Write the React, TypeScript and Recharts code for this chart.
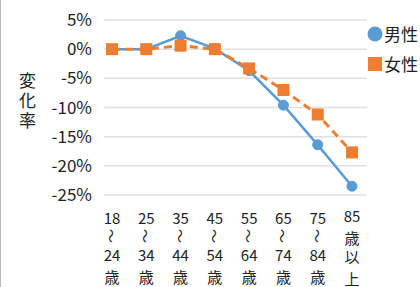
import React from "react";
import { LineChart, Line, XAxis, YAxis, CartesianGrid, Legend } from "recharts";

const categories = ["18~24歳", "25~34歳", "35~44歳", "45~54歳", "55~64歳", "65~74歳", "75~84歳", "85歳以上"];
const tickLines: string[][] = [
  ["18", "〜", "24", "歳"],
  ["25", "〜", "34", "歳"],
  ["35", "〜", "44", "歳"],
  ["45", "〜", "54", "歳"],
  ["55", "〜", "64", "歳"],
  ["65", "〜", "74", "歳"],
  ["75", "〜", "84", "歳"],
  ["85", "歳", "以", "上"],
];
const maleValues = [0, 0, 2.3, 0.1, -3.7, -9.6, -16.4, -23.5];
const femaleValues = [0, 0, 0.6, 0, -3.3, -7.0, -11.2, -17.7];
const yTicks = [5, 0, -5, -10, -15, -20, -25];

const data = categories.map((c, i) => ({
  name: c,
  male: maleValues[i],
  female: femaleValues[i],
}));

const FONT = "'Noto Sans CJK JP', 'Noto Sans', sans-serif";
const BLUE = "#5B9BD5";
const ORANGE = "#ED7D31";
const LINE_Y = [15, 33, 52, 74];
const LINE_Y_ALL_TEXT = [13, 35, 54.5, 76];

const XTick = (props: any) => {
  const { x, y, index } = props;
  const lines = tickLines[index] || [];
  const tilde = lines.findIndex((l) => l === "〜");
  const ys = tilde >= 0 ? LINE_Y : LINE_Y_ALL_TEXT;
  return (
    <g transform={`translate(${x},${y})`}>
      <text textAnchor="middle" fill="#222" fontSize={15} fontFamily={FONT}>
        {lines.map((l, i) =>
          l === "〜" ? null : (
            <tspan key={i} x={0} y={ys[i]} dy={5.5}>
              {l}
            </tspan>
          )
        )}
      </text>
      {tilde >= 0 && (
        <text
          x={0}
          y={0}
          transform={`translate(0,${ys[tilde]}) rotate(90)`}
          textAnchor="middle"
          dominantBaseline="central"
          fill="#222"
          fontSize={14}
          fontFamily={FONT}
        >
          〜
        </text>
      )}
    </g>
  );
};

const SquareDot = (props: any) => {
  const { cx, cy } = props;
  if (cx == null || cy == null) return null;
  return <rect x={cx - 6} y={cy - 6} width={12} height={12} fill={ORANGE} />;
};

const LegendContent = () => (
  <div style={{ fontFamily: FONT, fontSize: 17, color: "#222", lineHeight: "30px" }}>
    <div style={{ display: "flex", alignItems: "center" }}>
      <svg width={16} height={16} style={{ marginRight: 1 }}>
        <circle cx={8} cy={8} r={7.5} fill={BLUE} />
      </svg>
      <span>男性</span>
    </div>
    <div style={{ display: "flex", alignItems: "center" }}>
      <svg width={16} height={16} style={{ marginRight: 1 }}>
        <rect x={1} y={1} width={14} height={14} fill={ORANGE} />
      </svg>
      <span>女性</span>
    </div>
  </div>
);

export default function App() {
  return (
    <div style={{ position: "absolute", left: 0, top: 0, width: 420, height: 287, background: "#fff" }}>
      <div style={{ position: "absolute", left: 0, top: 0, width: 1, height: 287, background: "#bbb" }} />
      <div
        style={{
          position: "absolute",
          left: 15,
          top: 72,
          fontFamily: FONT,
          fontSize: 17,
          lineHeight: "24px",
          letterSpacing: "3px",
          writingMode: "vertical-rl",
          color: "#222",
        }}
      >
        変化率
      </div>
      <LineChart width={420} height={287} data={data} margin={{ top: 20, right: 2, bottom: 5, left: 0 }}>
        <CartesianGrid vertical={false} stroke="#e0e0e0" strokeWidth={1.5} />
        <XAxis
          dataKey="name"
          axisLine={false}
          tickLine={false}
          interval={0}
          height={87}
          padding={{ left: 8, right: 15 }}
          tick={<XTick />}
        />
        <YAxis
          width={104}
          domain={[-25, 5]}
          ticks={yTicks}
          axisLine={false}
          tickLine={false}
          tickMargin={6}
          tickFormatter={(v: number) => `${v}%`}
          tick={{ fontSize: 17, fill: "#222", fontFamily: FONT }}
        />
        <Legend
          layout="vertical"
          verticalAlign="top"
          align="right"
          wrapperStyle={{ top: 19, right: 2, width: "auto" }}
          content={<LegendContent />}
        />
        <Line
          type="linear"
          dataKey="male"
          stroke={BLUE}
          strokeWidth={2.5}
          dot={{ r: 5, fill: BLUE, stroke: BLUE, strokeWidth: 1 }}
          isAnimationActive={false}
        />
        <Line
          type="linear"
          dataKey="female"
          stroke={ORANGE}
          strokeWidth={3}
          strokeDasharray="8 5"
          dot={<SquareDot />}
          isAnimationActive={false}
        />
      </LineChart>
    </div>
  );
}
